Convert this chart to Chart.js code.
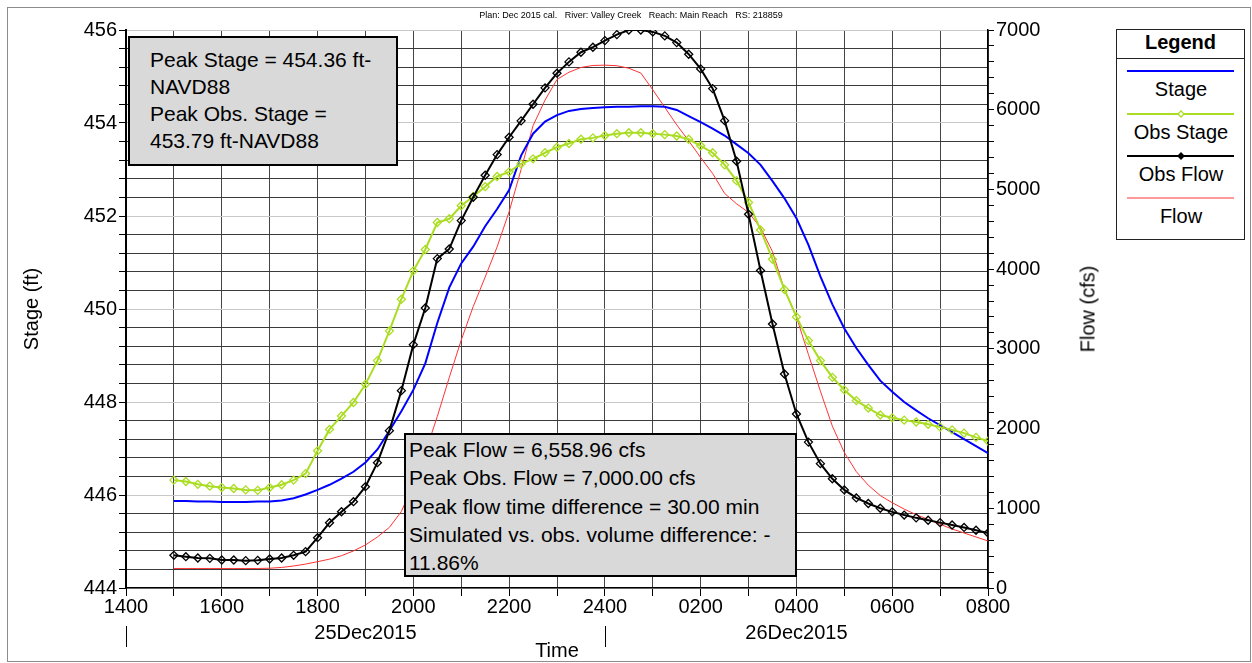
<!DOCTYPE html>
<html lang="en">
<head>
<meta charset="utf-8">
<title>Valley Creek - Stage and Flow Hydrograph</title>
<script src="https://cdn.jsdelivr.net/npm/chart.js@4.4.1/dist/chart.umd.min.js"></script>
<style>
    body { margin: 0; background: #fff; font-family: "Liberation Sans", Arial, sans-serif; }
    #wrap { position: relative; width: 1252px; height: 663px; overflow: hidden; }
    #frame { position: absolute; left: 7px; top: 7px; width: 1242px; height: 653px; border: 1px solid #8c8c8c; pointer-events: none; }
    .plan { position: absolute; left: 631px; top: 10px; transform: translateX(-50%); font-size: 9px; white-space: pre; color: #000; }
    .note { position: absolute; box-sizing: border-box; border: 2px solid #000; background: #d9d9d9; font-size: 21px; color: #000; white-space: nowrap; }
    #note1 { left: 128px; top: 36px; width: 270px; height: 130px; padding: 8px 0 0 20px; line-height: 27px; }
    #note2 { left: 404px; top: 433px; width: 393px; height: 144px; padding: 1px 0 0 3px; line-height: 28.3px; }
    #flowTitle { position: absolute; left: 1088px; top: 309px; transform: translate(-50%, -50%) rotate(-90deg); font-size: 20px; white-space: nowrap; color: #000; }
    #legend { position: absolute; left: 1116px; top: 29px; }
</style>
</head>
<body>
<div id="wrap">
    <canvas id="hydroChart" width="1252" height="663"></canvas>
    <div class="plan">Plan: Dec 2015 cal.   River: Valley Creek   Reach: Main Reach   RS: 218859</div>
    <div id="flowTitle">Flow (cfs)</div>
    <div class="note" id="note1">Peak Stage = 454.36 ft-<br>NAVD88<br>Peak Obs. Stage =<br>453.79 ft-NAVD88</div>
    <div class="note" id="note2">Peak Flow = 6,558.96 cfs<br>Peak Obs. Flow = 7,000.00 cfs<br>Peak flow time difference = 30.00 min<br>Simulated vs. obs. volume difference: -<br>11.86%</div>
    <svg id="legend" width="130" height="212" font-family="Liberation Sans, Arial, sans-serif" font-size="20">
        <rect x="0.5" y="0.5" width="128" height="210" fill="#fff" stroke="#222" stroke-width="1"/>
        <text x="64.5" y="15" text-anchor="middle" dominant-baseline="middle" font-weight="bold">Legend</text>
        <line x1="0" y1="29.5" x2="129" y2="29.5" stroke="#222" stroke-width="1"/>
        <line x1="11" y1="42" x2="118" y2="42" stroke="#0000ff" stroke-width="2"/>
        <text x="65" y="62" text-anchor="middle" dominant-baseline="middle">Stage</text>
        <line x1="11" y1="85" x2="118" y2="85" stroke="#aadd22" stroke-width="2"/>
        <path d="M65 82 L68 85 L65 88 L62 85 Z" fill="#fff" stroke="#aadd22" stroke-width="1.3"/>
        <text x="65" y="105" text-anchor="middle" dominant-baseline="middle">Obs Stage</text>
        <line x1="11" y1="127" x2="118" y2="127" stroke="#000" stroke-width="2"/>
        <path d="M65 124 L68 127 L65 130 L62 127 Z" fill="#000" stroke="#000" stroke-width="1.3"/>
        <text x="65" y="147" text-anchor="middle" dominant-baseline="middle">Obs Flow</text>
        <line x1="11" y1="169" x2="118" y2="169" stroke="#ff3333" stroke-width="1"/>
        <text x="65" y="189" text-anchor="middle" dominant-baseline="middle">Flow</text>
    </svg>
    <div id="frame"></div>
</div>

<script>
    // time in hours counted from 0000 on 25Dec2015 (24 = 2400, 32 = 0800 on 26Dec2015)
    const times = [
        15.0, 15.25, 15.5, 15.75, 16.0, 16.25, 16.5, 16.75, 17.0, 17.25, 17.5, 17.75,
        18.0, 18.25, 18.5, 18.75, 19.0, 19.25, 19.5, 19.75, 20.0, 20.25, 20.5, 20.75,
        21.0, 21.25, 21.5, 21.75, 22.0, 22.25, 22.5, 22.75, 23.0, 23.25, 23.5, 23.75,
        24.0, 24.25, 24.5, 24.75, 25.0, 25.25, 25.5, 25.75, 26.0, 26.25, 26.5, 26.75,
        27.0, 27.25, 27.5, 27.75, 28.0, 28.25, 28.5, 28.75, 29.0, 29.25, 29.5, 29.75,
        30.0, 30.25, 30.5, 30.75, 31.0, 31.25, 31.5, 31.75, 32.0
    ];

    // Stage (ft), simulated
    const stage = [
        445.87, 445.87, 445.86, 445.86, 445.85, 445.85, 445.85, 445.86, 445.86, 445.88, 445.93, 446.01,
        446.11, 446.22, 446.35, 446.50, 446.70, 446.98, 447.38, 447.80, 448.26, 448.83, 449.70, 450.46,
        450.98, 451.34, 451.78, 452.15, 452.56, 453.30, 453.77, 454.03, 454.17, 454.26, 454.30, 454.32,
        454.34, 454.35, 454.35, 454.36, 454.36, 454.35, 454.28, 454.15, 454.02, 453.88, 453.73, 453.54,
        453.35, 453.10, 452.75, 452.38, 451.95, 451.38, 450.70, 450.10, 449.58, 449.16, 448.80, 448.46,
        448.22, 448.00, 447.82, 447.65, 447.50, 447.35, 447.20, 447.05, 446.90
    ];

    // Obs Stage (ft)
    const obsStage = [
        446.32, 446.29, 446.23, 446.19, 446.16, 446.14, 446.11, 446.10, 446.16, 446.22, 446.32, 446.46,
        446.95, 447.41, 447.70, 447.99, 448.38, 448.89, 449.53, 450.21, 450.82, 451.28, 451.86, 451.94,
        452.22, 452.42, 452.63, 452.85, 452.95, 453.12, 453.23, 453.36, 453.48, 453.56, 453.65, 453.68,
        453.73, 453.77, 453.79, 453.79, 453.77, 453.75, 453.72, 453.65, 453.51, 453.36, 453.10, 452.76,
        452.29, 451.70, 451.07, 450.42, 449.83, 449.32, 448.89, 448.53, 448.26, 448.03, 447.87, 447.72,
        447.66, 447.61, 447.57, 447.52, 447.46, 447.40, 447.33, 447.24, 447.16
    ];

    // Obs Flow (cfs)
    const obsFlow = [
        410, 393, 376, 372, 351, 351, 343, 347, 364, 376, 410, 456,
        631, 819, 957, 1083, 1271, 1572, 1974, 2476, 3053, 3513, 4132, 4253,
        4609, 4902, 5178, 5437, 5655, 5860, 6069, 6274, 6458, 6600, 6721, 6784,
        6867, 6942, 7000, 7000, 6976, 6926, 6842, 6696, 6512, 6265, 5863, 5354,
        4689, 3982, 3312, 2685, 2183, 1830, 1560, 1370, 1230, 1130, 1060, 1000,
        955, 915, 880, 850, 820, 790, 760, 725, 690
    ];

    // Flow (cfs), simulated
    const flow = [
        245, 245, 245, 245, 245, 245, 245, 245, 248, 258, 276, 300,
        330, 362, 405, 465, 540, 640, 760, 960, 1300, 1700, 2150, 2640,
        3110, 3530, 3900, 4280, 4720, 5250, 5800, 6120, 6380, 6470, 6530, 6555,
        6559, 6552, 6520, 6460, 6250, 6030, 5810, 5610, 5400, 5200, 4950, 4820,
        4710, 4520, 4220, 3740, 3400, 2930, 2470, 2030, 1700, 1460, 1290, 1160,
        1070, 990, 920, 860, 800, 740, 690, 640, 590
    ];

    const xLabelHours = [14, 16, 18, 20, 22, 24, 26, 28, 30, 32];
    const xLabels = ['1400', '1600', '1800', '2000', '2200', '2400', '0200', '0400', '0600', '0800'];
    const dayLabelHours = [19, 28];
    const dayLabels = ['25Dec2015', '26Dec2015'];
    const dayMarkHours = [14, 24];

    const pts = arr => arr.map((v, i) => ({x: times[i], y: v}));

    const tickFont = {family: 'Liberation Sans', size: 20};

    // small vertical marks under the time labels
    const dayMarks = {
        id: 'dayMarks',
        afterDraw(chart) {
            const ctx = chart.ctx;
            const x = chart.scales.x;
            ctx.save();
            ctx.strokeStyle = '#000';
            ctx.lineWidth = 1;
            dayMarkHours.forEach(h => {
                const px = Math.round(x.getPixelForValue(h)) + 0.5;
                ctx.beginPath();
                ctx.moveTo(px, 626);
                ctx.lineTo(px, 647);
                ctx.stroke();
            });
            ctx.restore();
        }
    };

    let isMajorStage = v => Math.round(v * 10) % 20 === 0;
    let isMajorFlow = v => Math.round(v) % 1000 === 0;

    new Chart(document.getElementById('hydroChart').getContext('2d'), {
        type: 'line',
        data: {
            datasets: [
                {
                    label: 'Stage', data: pts(stage), yAxisID: 'y',
                    borderColor: '#0000ff', borderWidth: 2, pointRadius: 0, order: 2
                },
                {
                    label: 'Obs Stage', data: pts(obsStage), yAxisID: 'y',
                    borderColor: '#aadd22', borderWidth: 2, pointStyle: 'rectRot', pointRadius: 4,
                    pointBorderWidth: 1.3, pointBorderColor: '#aadd22', pointBackgroundColor: 'rgba(255,255,255,0)', order: 1
                },
                {
                    label: 'Obs Flow', data: pts(obsFlow), yAxisID: 'y1',
                    borderColor: '#000', borderWidth: 2, pointStyle: 'rectRot', pointRadius: 4,
                    pointBorderWidth: 1.3, pointBorderColor: '#000', pointBackgroundColor: 'rgba(255,255,255,0)', order: 0
                },
                {
                    label: 'Flow', data: pts(flow), yAxisID: 'y1',
                    borderColor: '#ff3333', borderWidth: 1, pointRadius: 0, order: 3
                }
            ]
        },
        options: {
            responsive: false,
            animation: false,
            layout: {padding: {left: 16, right: 148, top: 30, bottom: 0}},
            plugins: {legend: {display: false}, tooltip: {enabled: false}},
            scales: {
                x: {
                    type: 'linear', min: 14, max: 32,
                    afterFit: s => { s.height = 75; },
                    ticks: {
                        stepSize: 1, autoSkip: false, maxRotation: 0, padding: -2, color: '#000',
                        font: {family: 'Liberation Sans', size: 20, lineHeight: 1.3},
                        callback: v => {
                            const i = xLabelHours.indexOf(v);
                            const d = dayLabelHours.indexOf(v);
                            const top = i >= 0 ? xLabels[i] : '';
                            return d >= 0 ? [top, dayLabels[d]] : top;
                        }
                    },
                    grid: {color: '#454545', tickColor: '#000', tickLength: 8},
                    border: {color: '#000', width: 1.5},
                    title: {display: true, text: 'Time', color: '#000', font: tickFont, padding: {top: 0, bottom: 0}}
                },
                y: {
                    position: 'left', min: 444, max: 456,
                    afterFit: s => { s.width = 110; },
                    ticks: {
                        stepSize: 0.4, autoSkip: false, padding: 2, color: '#000', font: tickFont,
                        callback: v => isMajorStage(v) ? String(Math.round(v)) : ''
                    },
                    grid: {
                        color: c => (c.tick && isMajorStage(c.tick.value)) ? '#c8c8c8' : '#3a3a3a',
                        tickColor: '#000', tickLength: 7
                    },
                    border: {color: '#000', width: 2},
                    title: {display: true, text: 'Stage (ft)', color: '#000', font: tickFont}
                },
                y1: {
                    position: 'right', min: 0, max: 7000,
                    afterFit: s => { s.width = 116; },
                    ticks: {
                        stepSize: 200, autoSkip: false, padding: 2, color: '#000', font: tickFont,
                        callback: v => isMajorFlow(v) ? String(Math.round(v)) : ''
                    },
                    grid: {drawOnChartArea: false, tickColor: '#000', tickLength: 6},
                    border: {color: '#000', width: 1.5},
                    title: {display: false}
                }
            }
        },
        plugins: [dayMarks]
    });
</script>
</body>
</html>
